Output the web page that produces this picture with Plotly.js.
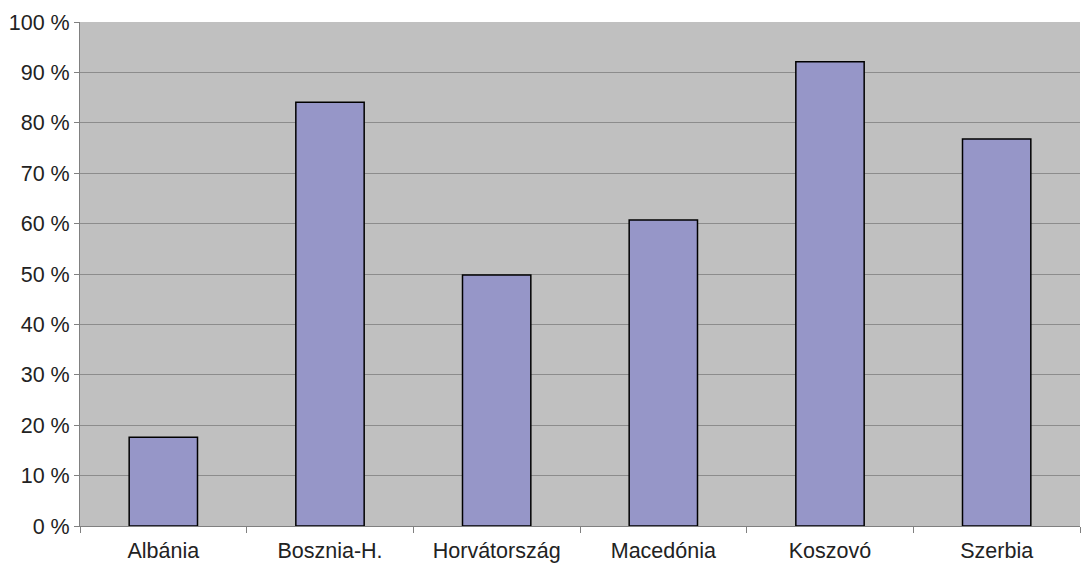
<!DOCTYPE html>
<html>
<head>
<meta charset="utf-8">
<script src="https://cdn.plot.ly/plotly-3.0.1.min.js"></script>
<style>html,body{margin:0;padding:0;background:#fff;}#chart{width:1082px;height:565px;}</style>
</head>
<body>
<div id="chart"></div>
<script>
const categories = ["Albánia", "Bosznia-H.", "Horvátország", "Macedónia", "Koszovó", "Szerbia"];
const values = [17.6, 84.1, 49.8, 60.7, 92.1, 76.8];
const yTicks = [0, 10, 20, 30, 40, 50, 60, 70, 80, 90, 100];
const yTickLabels = ["0 %", "10 %", "20 %", "30 %", "40 %", "50 %", "60 %", "70 %", "80 %", "90 %", "100 %"];

const trace = {
  type: "bar",
  x: categories,
  y: values,
  marker: {color: "#9696C8", line: {color: "#000000", width: 1.5}},
  hoverinfo: "skip"
};

const font = {family: "Liberation Sans, Arial, sans-serif", size: 21.5, color: "#222"};

const layout = {
  width: 1082,
  height: 565,
  margin: {l: 80, r: 2, t: 22, b: 39},
  paper_bgcolor: "#ffffff",
  plot_bgcolor: "#C0C0C0",
  bargap: 0.59,
  showlegend: false,
  font: font,
  xaxis: {
    type: "category",
    tickson: "boundaries",
    ticks: "outside",
    ticklen: 6,
    tickcolor: "#808080",
    ticklabelstandoff: 5,
    showline: true,
    linecolor: "#808080",
    linewidth: 1,
    showgrid: false,
    tickfont: font,
    fixedrange: true
  },
  yaxis: {
    range: [0, 100],
    tickmode: "array",
    tickvals: yTicks,
    ticktext: yTickLabels,
    ticks: "outside",
    ticklen: 5,
    tickcolor: "#808080",
    showline: true,
    linecolor: "#808080",
    linewidth: 1,
    showgrid: true,
    gridcolor: "#8C8C8C",
    gridwidth: 1,
    zeroline: false,
    tickfont: font,
    fixedrange: true
  }
};

Plotly.newPlot("chart", [trace], layout, {displayModeBar: false, staticPlot: true});
</script>
</body>
</html>
